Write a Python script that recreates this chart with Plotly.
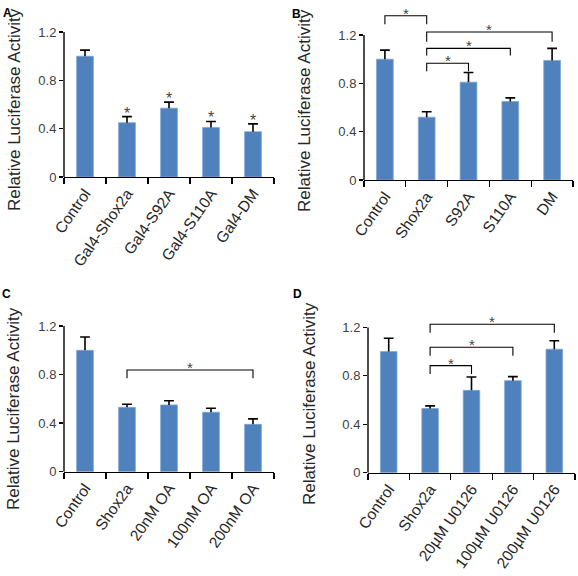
import plotly.graph_objects as go

# ---------------- data ----------------
cats_a = ["Control", "Gal4-Shox2a", "Gal4-S92A", "Gal4-S110A", "Gal4-DM"]
vals_a = [1.0, 0.45, 0.57, 0.41, 0.375]
errs_a = [0.05, 0.05, 0.05, 0.05, 0.065]
stars_a = [False, True, True, True, True]

cats_b = ["Control", "Shox2a", "S92A", "S110A", "DM"]
vals_b = [1.0, 0.52, 0.81, 0.65, 0.99]
errs_b = [0.075, 0.045, 0.08, 0.03, 0.10]
brackets_b = [("Control", "Shox2a", 1.36, 1.29),
              ("Shox2a", "DM", 1.225, 1.145),
              ("Shox2a", "S110A", 1.09, 1.03),
              ("Shox2a", "S92A", 0.966, 0.90)]

cats_c = ["Control", "Shox2a", "20nM OA", "100nM OA", "200nM OA"]
vals_c = [1.0, 0.53, 0.55, 0.49, 0.39]
errs_c = [0.11, 0.025, 0.035, 0.033, 0.045]
brackets_c = [("Shox2a", "200nM OA", 0.838, 0.77)]

cats_d = ["Control", "Shox2a", "20µM U0126", "100µM U0126", "200µM U0126"]
vals_d = [1.0, 0.53, 0.68, 0.76, 1.02]
errs_d = [0.11, 0.022, 0.11, 0.033, 0.07]
brackets_d = [("Shox2a", "200µM U0126", 1.226, 1.156),
              ("Shox2a", "100µM U0126", 1.036, 0.966),
              ("Shox2a", "20µM U0126", 0.884, 0.815)]

y_ticks = [0, 0.4, 0.8, 1.2]
y_ticktext = ["0", "0.4", "0.8", "1.2"]
y_title = "Relative Luciferase Activity"
panel_letters = ["A", "B", "C", "D"]

# ---------------- layout geometry (pixels) ----------------
W, H = 578, 576
YMAX = 1.38
# (x0, x1, zero_y, px per unit)
panels = [
    (64, 274, 177.0, 120.8),
    (364, 573, 180.0, 120.8),
    (64, 274, 471.7, 121.4),
    (368, 575, 472.7, 121.1),
]
title_pos = [(14, 110), (304, 111), (13, 409), (309, 404)]
letter_pos = [(1, 4), (290, 5), (0, 285), (291, 285)]


def px(x):
    return x / W


def py(y):
    return min(1.0, max(0.0, 1 - y / H))


BAR = "#4F81BD"
BAR_EDGE = "#7FA6D6"
TXT = "#262626"
FONT = "Liberation Sans, Arial, sans-serif"

data = [
    (cats_a, vals_a, errs_a, []),
    (cats_b, vals_b, errs_b, brackets_b),
    (cats_c, vals_c, errs_c, brackets_c),
    (cats_d, vals_d, errs_d, brackets_d),
]

fig = go.Figure()
annotations = []
shapes = []
layout_axes = {}

for i, ((cats, vals, errs, brackets), (x0, x1, zy, scale)) in enumerate(zip(data, panels)):
    ty = zy - YMAX * scale
    n = "" if i == 0 else str(i + 1)
    xa, ya = "x" + n, "y" + n
    # bars
    fig.add_trace(go.Bar(x=cats, y=vals,
                         marker=dict(color=BAR, line=dict(width=0.8, color=BAR_EDGE)),
                         xaxis=xa, yaxis=ya, showlegend=False, hoverinfo="x+y"))
    # upper error bars (stem + cap)
    ex, ey = [], []
    for c, v, e in zip(cats, vals, errs):
        ex += [c, c, None]
        ey += [v, v + e, None]
    fig.add_trace(go.Scatter(x=ex, y=ey, mode="lines", line=dict(color="black", width=1.6),
                             xaxis=xa, yaxis=ya, showlegend=False, hoverinfo="skip"))
    fig.add_trace(go.Scatter(x=cats, y=[v + e for v, e in zip(vals, errs)], mode="markers",
                             marker=dict(symbol="line-ew", size=7,
                                         line=dict(color="black", width=1.6)),
                             xaxis=xa, yaxis=ya, showlegend=False, hoverinfo="skip"))
    # significance brackets
    for (c1, c2, top, drop) in brackets:
        fig.add_trace(go.Scatter(x=[c1, c1, c2, c2], y=[drop, top, top, drop], mode="lines",
                                 line=dict(color="black", width=1.1),
                                 xaxis=xa, yaxis=ya, showlegend=False, hoverinfo="skip"))
        mid = (cats.index(c1) + cats.index(c2)) / 2
        annotations.append(dict(x=mid, y=top, xref=xa, yref=ya, text="*", showarrow=False,
                                yanchor="bottom", yshift=-8,
                                font=dict(size=15, color="#444", family=FONT)))
    # stars above bars (panel A)
    if i == 0:
        for c, v, e, s in zip(cats, vals, errs, stars_a):
            if s:
                annotations.append(dict(x=c, y=v + e, xref=xa, yref=ya, text="*",
                                        showarrow=False, yanchor="bottom", yshift=-7,
                                        font=dict(size=16, color="#444", family=FONT)))

    xkey = "xaxis" + n
    ykey = "yaxis" + n
    layout_axes[xkey] = dict(
        domain=[px(x0), px(x1)], anchor=ya, type="category",
        range=[-0.5, len(cats) - 0.5], automargin=False,
        showline=True, linecolor="black", linewidth=1.4,
        ticks="outside", tickson="boundaries", ticklen=6, tickwidth=1.3, tickcolor="black",
        tickangle=-55, tickfont=dict(size=15.5, color=TXT, family=FONT),
        showgrid=False, zeroline=False, fixedrange=True,
    )
    layout_axes[ykey] = dict(
        domain=[py(zy), py(ty)], anchor=xa, automargin=False,
        range=[0, YMAX], tickvals=y_ticks, ticktext=y_ticktext,
        ticks="outside", ticklen=4, tickwidth=1.3, tickcolor="black",
        tickfont=dict(size=13, color="#404040", family=FONT),
        showline=False, showgrid=False, zeroline=False, fixedrange=True,
    )
    # y axis line from 0 to 1.2
    shapes.append(dict(type="line", xref=xa + " domain", x0=0, x1=0, yref=ya,
                       y0=y_ticks[0], y1=y_ticks[-1],
                       line=dict(color="black", width=1.4)))
    # y axis title
    tx, tyy = title_pos[i]
    annotations.append(dict(x=px(tx), y=py(tyy), xref="paper", yref="paper",
                            text=y_title, textangle=-90, showarrow=False,
                            xanchor="center", yanchor="middle",
                            font=dict(size=17, color=TXT, family=FONT)))
    # panel letter
    lx, ly = letter_pos[i]
    annotations.append(dict(x=px(lx), y=py(ly), xref="paper", yref="paper",
                            text="<b>%s</b>" % panel_letters[i], showarrow=False,
                            xanchor="left", yanchor="top",
                            font=dict(size=12, color="black", family=FONT)))

fig.update_layout(
    width=W, height=H, autosize=False,
    margin=dict(l=0, r=0, t=0, b=0, autoexpand=False),
    paper_bgcolor="white", plot_bgcolor="white",
    bargap=0.6, showlegend=False, hovermode=False,
    annotations=annotations, shapes=shapes,
    font=dict(family=FONT, color=TXT),
    **layout_axes,
)

fig.write_html("out.html",
               config={"displayModeBar": False, "staticPlot": True},
               post_script="document.documentElement.style.margin='0';"
                           "document.body.style.margin='0';"
                           "document.body.style.overflow='hidden';")
